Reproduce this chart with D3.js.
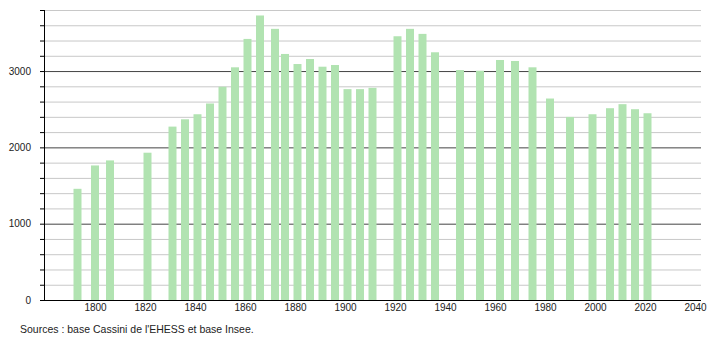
<!DOCTYPE html>
<html>
<head>
<meta charset="utf-8">
<script src="https://cdn.jsdelivr.net/npm/d3@7"></script>
<style>
  body { margin: 0; background: #fff; }
  svg text { font-family: "Liberation Sans", Arial, sans-serif; fill: #222; }
</style>
</head>
<body>
<div id="chart"></div>
<script>
// census years and population
const years = [1793, 1800, 1806, 1821, 1831, 1836, 1841, 1846, 1851, 1856, 1861, 1866,
               1872, 1876, 1881, 1886, 1891, 1896, 1901, 1906, 1911, 1921, 1926, 1931,
               1936, 1946, 1954, 1962, 1968, 1975, 1982, 1990, 1999, 2006, 2011, 2016, 2021];
const population = [1457, 1763, 1829, 1930, 2272, 2368, 2434, 2575, 2794, 3049, 3421, 3728,
                    3553, 3224, 3092, 3158, 3057, 3079, 2763, 2763, 2780, 3456, 3553, 3487,
                    3246, 3013, 3004, 3145, 3132, 3049, 2640, 2399, 2434, 2513, 2566, 2500, 2447];
const xTicks = [1800, 1820, 1840, 1860, 1880, 1900, 1920, 1940, 1960, 1980, 2000, 2020, 2040];
const yMajor = [0, 1000, 2000, 3000];
const yMinor = d3.range(0, 3801, 200);

const width = 710, height = 340;
const margin = {top: 10, right: 9, bottom: 40, left: 44};

const svg = d3.select("#chart").append("svg")
    .attr("width", width)
    .attr("height", height);

const x = d3.scaleLinear()
    .domain([1779.6, 2042.4])
    .range([margin.left, width - margin.right]);

const y = d3.scaleLinear()
    .domain([0, 3800])
    .range([height - margin.bottom, margin.top]);

// grid lines
svg.append("g").selectAll("line")
    .data(yMinor.filter(v => v > 0))
    .enter().append("line")
    .attr("x1", margin.left)
    .attr("x2", width - margin.right)
    .attr("y1", d => y(d) + 0.5)
    .attr("y2", d => y(d) + 0.5)
    .attr("stroke", d => d % 1000 == 0 ? "#444" : "#c8c8c8")
    .attr("stroke-width", 1);

// bars
const barW = 8;
svg.append("g").selectAll("rect")
    .data(years)
    .enter().append("rect")
    .attr("x", d => x(d) - barW / 2)
    .attr("y", (d, i) => y(population[i]))
    .attr("width", barW)
    .attr("height", (d, i) => y(0) - y(population[i]))
    .style("fill", "#b1e3b1");

// y axis: ticks every 200, labels every 1000
const yAxis = d3.axisLeft(y)
    .tickValues(yMinor)
    .tickSize(4)
    .tickFormat(d => yMajor.includes(d) ? d : "");
svg.append("g")
    .attr("transform", "translate(" + margin.left + ",0)")
    .call(yAxis)
    .call(g => g.select(".domain").attr("d", "M0.5," + margin.top + "V" + (y(0) + 0.5)).attr("stroke", "#000"))
    .call(g => g.selectAll(".tick line").attr("stroke", "#000"))
    .call(g => g.selectAll("text").attr("x", -13).attr("font-size", 10).style("fill", "#222"));

// x axis
const xAxis = d3.axisBottom(x)
    .tickValues(xTicks)
    .tickSize(0)
    .tickFormat(d3.format("d"));
svg.append("g")
    .attr("transform", "translate(0," + y(0) + ")")
    .call(xAxis)
    .call(g => g.select(".domain").attr("d", "M" + margin.left + ",0.5H" + (width - margin.right)).attr("stroke", "#000"))
    .call(g => g.selectAll("text").attr("y", 4).attr("font-size", 10).style("fill", "#222"));

svg.append("text")
    .attr("x", 20)
    .attr("y", 333)
    .attr("font-size", 10.5)
    .text("Sources : base Cassini de l'EHESS et base Insee.");
</script>
</body>
</html>
